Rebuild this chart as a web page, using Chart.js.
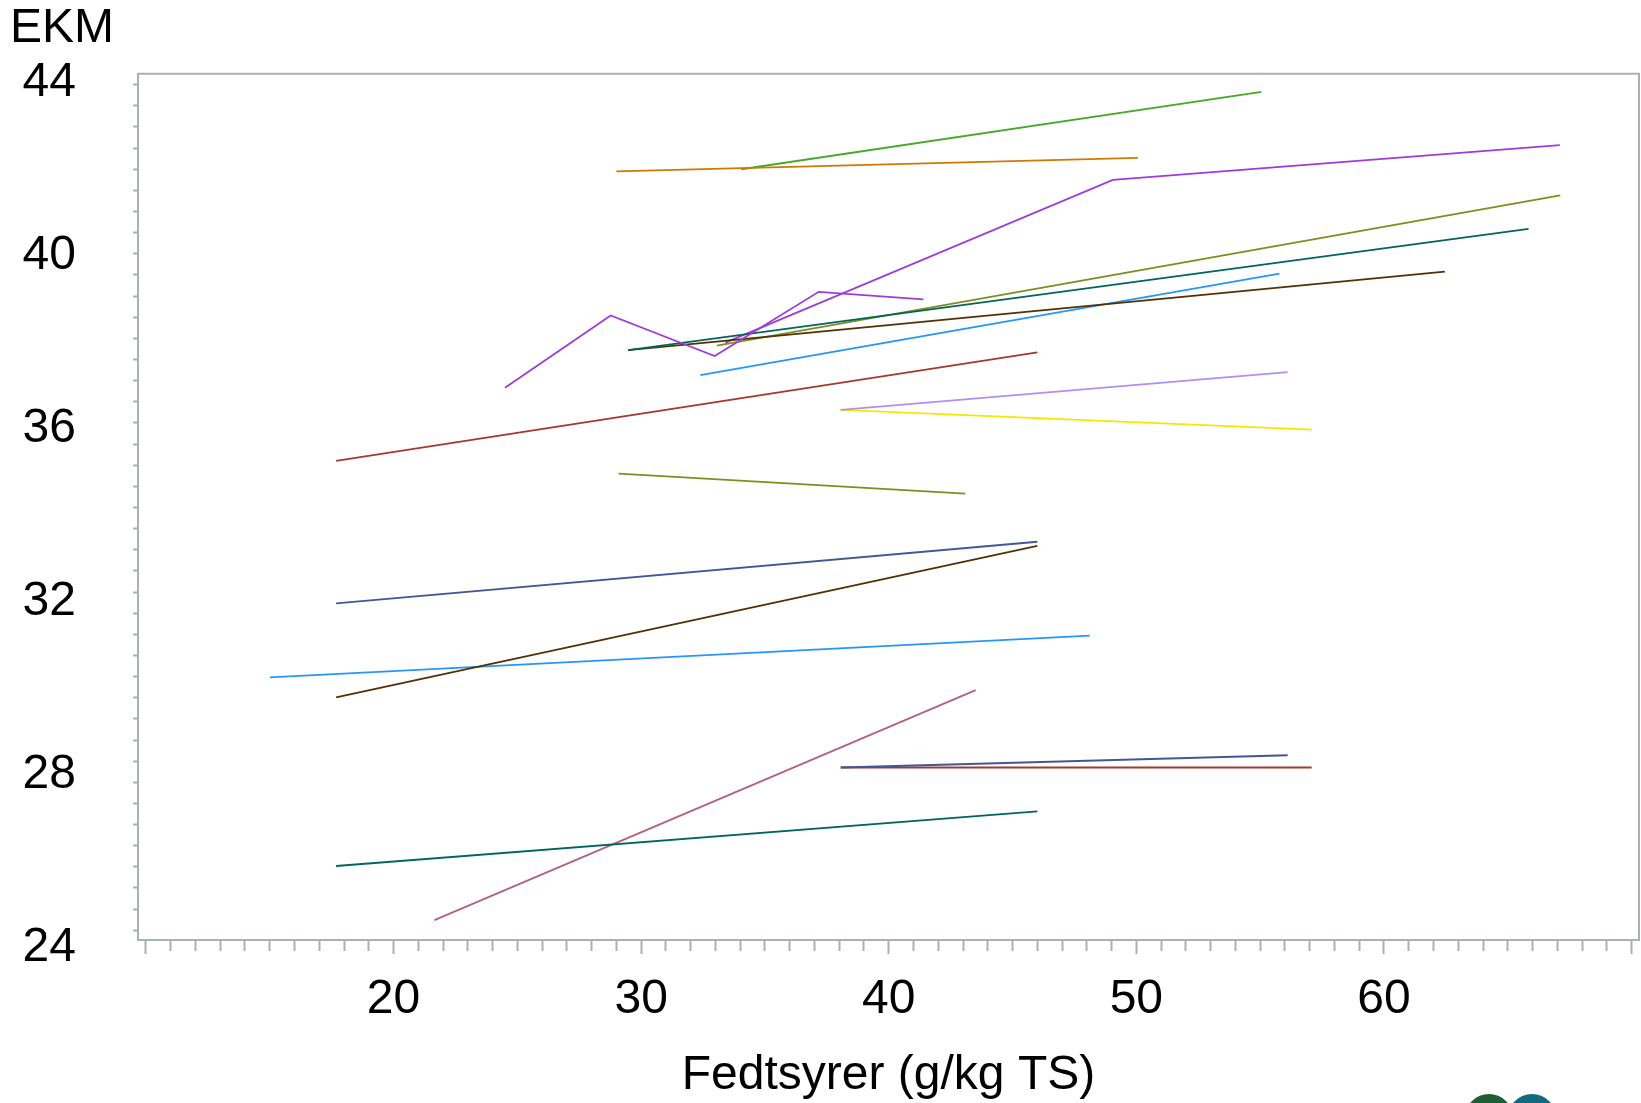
<!DOCTYPE html>
<html>
<head>
<meta charset="utf-8">
<script src="https://cdn.jsdelivr.net/npm/chart.js@4.4.0/dist/chart.umd.min.js"></script>
<style>
html,body{margin:0;padding:0;background:#ffffff;}
#wrap{width:1641px;height:1103px;position:relative;}
canvas{display:block;}
</style>
</head>
<body>
<div id="wrap"><canvas id="c" width="1641" height="1103"></canvas></div>
<script>
// ---- data ----
const yAxisTitle = 'EKM';
const xAxisTitle = 'Fedtsyrer (g/kg TS)';
const xTickLabels = [20, 30, 40, 50, 60];
const yTickLabels = [24, 28, 32, 36, 40, 44];

// Fedtsyrer (g/kg TS) values, one array per line
const lineX = [
  [17.68, 46.0],
  [17.68, 46.0],
  [17.68, 46.0],
  [17.68, 46.0],
  [24.5, 28.77, 32.97, 37.17, 41.4],
  [29.09, 43.09],
  [15.01, 48.12],
  [21.65, 43.51],
  [29.0, 50.06],
  [34.04, 55.05],
  [38.06, 56.11],
  [38.06, 57.08],
  [38.06, 56.11],
  [38.06, 57.08],
  [29.47, 65.84],
  [29.47, 62.46],
  [33.4, 49.05, 67.1],
  [33.06, 67.12],
  [32.39, 55.78]
];
// EKM values, one array per line
const lineY = [
  [31.73, 33.19],
  [35.10, 37.67],
  [25.52, 26.81],
  [29.51, 33.09],
  [36.83, 38.54, 37.58, 39.10, 38.92],
  [34.80, 34.33],
  [29.98, 30.97],
  [24.24, 29.68],
  [41.95, 42.27],
  [42.0, 43.83],
  [36.31, 37.20],
  [36.31, 35.84],
  [27.85, 28.14],
  [27.85, 27.85],
  [37.72, 40.59],
  [37.72, 39.58],
  [37.9, 41.75, 42.57],
  [37.83, 41.38],
  [37.13, 39.53]
];

// ---- styles ----
const palette = ['#445694', '#A23A2E', '#01665E', '#543005', '#9D3CDB', '#7F8E1F',
                 '#2597FA', '#B26084', '#D17800', '#47A82A', '#B38EF3', '#F9E500'];
const axisGray = '#aab0b5';
const FONT = "'Liberation Sans', Arial, sans-serif";

const datasets = lineX.map((xs, i) => ({
  label: 'Gruppe ' + (i + 1),
  data: xs.map((x, j) => ({x: x, y: lineY[i][j]})),
  borderColor: palette[i % palette.length],
  backgroundColor: palette[i % palette.length],
  borderWidth: 1.8,
  showLine: true,
  pointRadius: 0,
  pointHoverRadius: 0,
  tension: 0,
  fill: false
}));

const framePlugin = {
  id: 'frame',
  afterDraw(chart) {
    const {ctx, chartArea: a} = chart;
    ctx.save();
    ctx.strokeStyle = axisGray;
    ctx.lineWidth = 2;
    ctx.beginPath();
    ctx.moveTo(a.left, a.top);
    ctx.lineTo(a.right, a.top);
    ctx.lineTo(a.right, a.bottom);
    ctx.stroke();
    ctx.restore();
  }
};

const logoPlugin = {
  id: 'logo',
  afterDraw(chart) {
    const ctx = chart.ctx;
    ctx.save();
    ctx.fillStyle = '#1f5e34';
    ctx.beginPath(); ctx.arc(1489, 1118, 24, 0, Math.PI * 2); ctx.fill();
    ctx.fillStyle = '#136a78';
    ctx.beginPath(); ctx.arc(1532, 1118, 24, 0, Math.PI * 2); ctx.fill();
    ctx.restore();
  }
};

new Chart(document.getElementById('c'), {
  type: 'scatter',
  data: {datasets: datasets},
  plugins: [framePlugin, logoPlugin],
  options: {
    responsive: false,
    animation: false,
    devicePixelRatio: 1,
    layout: {padding: {left: 10, right: 2, top: 0, bottom: 0}},
    plugins: {
      legend: {display: false},
      tooltip: {enabled: false},
      title: {
        display: true,
        text: yAxisTitle,
        align: 'start',
        color: '#000000',
        font: {family: FONT, size: 48, weight: 'normal', lineHeight: 1.077},
        padding: {top: 3, bottom: 19}
      }
    },
    scales: {
      x: {
        type: 'linear',
        position: 'bottom',
        min: 9.68,
        max: 70.3,
        border: {display: true, color: axisGray, width: 2},
        grid: {
          drawOnChartArea: false,
          drawTicks: true,
          tickLength: 14,
          tickColor: axisGray,
          tickWidth: 2,
          tickBorderDash: (ctx) => (ctx.tick && Math.round(ctx.tick.value) % 10 === 0) ? [] : [10, 30]
        },
        ticks: {
          stepSize: 1,
          autoSkip: false,
          includeBounds: false,
          maxRotation: 0,
          padding: 0,
          color: '#000000',
          font: {family: FONT, size: 48, lineHeight: 1.925},
          callback: (v) => xTickLabels.includes(Math.round(v)) && Math.abs(v - Math.round(v)) < 1e-6 ? String(Math.round(v)) : ''
        },
        title: {
          display: true,
          text: xAxisTitle,
          color: '#000000',
          font: {family: FONT, size: 48, lineHeight: 1.133},
          padding: {top: 0, bottom: 0}
        },
        afterFit: (s) => { s.height = 163; }
      },
      y: {
        type: 'linear',
        position: 'left',
        weight: 0,
        min: 23.77,
        max: 44.26,
        border: {display: true, color: axisGray, width: 2},
        grid: {drawOnChartArea: false, drawTicks: true, tickLength: 5, tickColor: axisGray, tickWidth: 2},
        ticks: {display: false, stepSize: 0.5, autoSkip: false, includeBounds: false, padding: 0},
        afterFit: (s) => { s.width = 59; }
      },
      yl: {
        type: 'linear',
        position: 'left',
        weight: 1,
        min: 24.19,
        max: 44.22,
        border: {display: false},
        grid: {display: false, drawTicks: false, drawOnChartArea: false},
        ticks: {
          padding: 3,
          color: '#000000',
          font: {family: FONT, size: 48},
          autoSkip: false
        },
        afterBuildTicks: (s) => { s.ticks = yTickLabels.map(v => ({value: v})); },
        afterFit: (s) => { s.width = 69; }
      }
    }
  }
});
</script>
</body>
</html>
